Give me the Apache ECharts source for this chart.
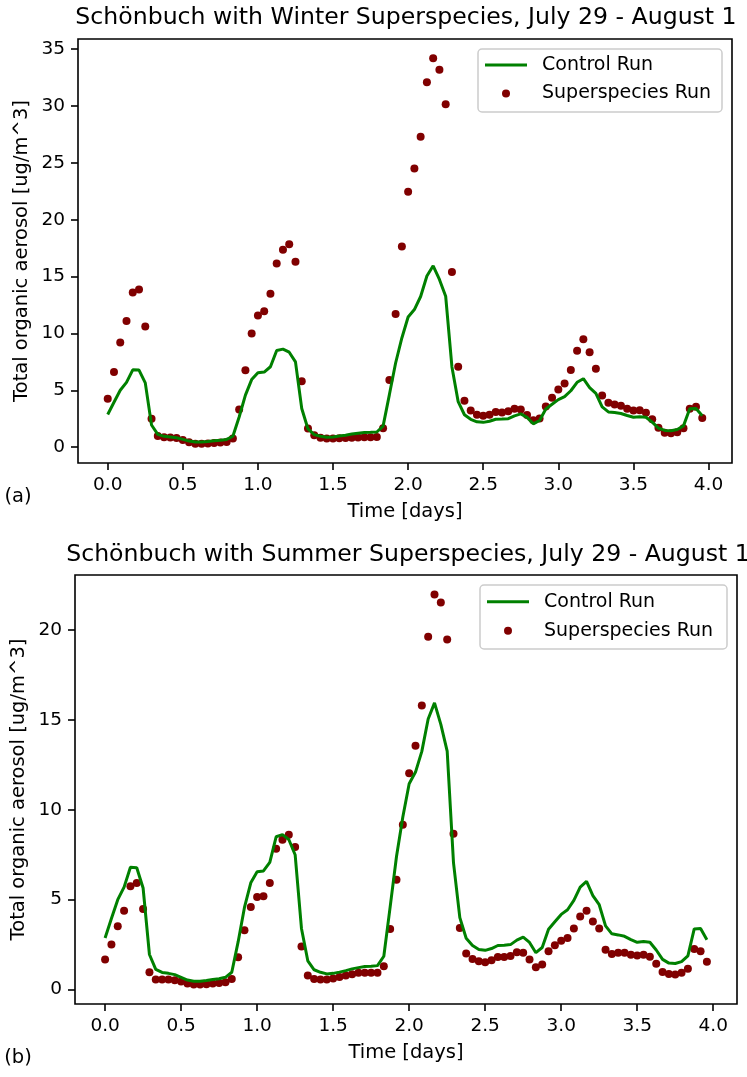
<!DOCTYPE html>
<html>
<head>
<meta charset="utf-8">
<script src="https://cdn.jsdelivr.net/npm/echarts@6/dist/echarts.min.js"></script>
<style>
html,body{margin:0;padding:0;background:#ffffff;}
#chart{width:747px;height:1077px;}
</style>
</head>
<body>
<div id="chart"></div>
<script>
// ---------------- DATA ----------------
const timeDays = [
  0, 0.0417, 0.0833, 0.125, 0.1667, 0.2083, 0.25, 0.2917, 0.3333, 0.375, 0.4167, 0.4583,
  0.5, 0.5417, 0.5833, 0.625, 0.6667, 0.7083, 0.75, 0.7917, 0.8333, 0.875, 0.9167, 0.9583,
  1, 1.0417, 1.0833, 1.125, 1.1667, 1.2083, 1.25, 1.2917, 1.3333, 1.375, 1.4167, 1.4583,
  1.5, 1.5417, 1.5833, 1.625, 1.6667, 1.7083, 1.75, 1.7917, 1.8333, 1.875, 1.9167, 1.9583,
  2, 2.0417, 2.0833, 2.125, 2.1667, 2.2083, 2.25, 2.2917, 2.3333, 2.375, 2.4167, 2.4583,
  2.5, 2.5417, 2.5833, 2.625, 2.6667, 2.7083, 2.75, 2.7917, 2.8333, 2.875, 2.9167, 2.9583,
  3, 3.0417, 3.0833, 3.125, 3.1667, 3.2083, 3.25, 3.2917, 3.3333, 3.375, 3.4167, 3.4583,
  3.5, 3.5417, 3.5833, 3.625, 3.6667, 3.7083, 3.75, 3.7917, 3.8333, 3.875, 3.9167, 3.9583
];

const controlRun = [
  2.87, 3.95, 5.0, 5.7, 6.8, 6.78, 5.65, 1.95, 1.12, 0.95, 0.9, 0.83, 0.68, 0.53, 0.46, 0.46, 0.5, 0.56, 0.6, 0.68, 0.96, 2.65, 4.57, 5.94,
  6.55, 6.6, 7.07, 8.5, 8.62, 8.35, 7.5, 3.4, 1.6, 1.1, 0.96, 0.87, 0.9, 0.97, 1.05, 1.15, 1.22, 1.28, 1.3, 1.33, 1.85, 4.6, 7.4, 9.6,
  11.45, 12.1, 13.25, 15.05, 15.95, 14.75, 13.27, 7.05, 4.0, 2.85, 2.45, 2.23, 2.18, 2.28, 2.45, 2.47, 2.5, 2.75, 2.92, 2.62, 2.05, 2.34,
  3.35, 3.77, 4.18, 4.44, 4.96, 5.7, 6.02, 5.23, 4.72, 3.54, 3.1, 3.04, 2.96, 2.78, 2.63, 2.67, 2.63, 2.2, 1.68, 1.47, 1.45, 1.55, 1.87, 3.37, 3.4, 2.77
];

const winterSuperspecies = [
  4.25, 6.6, 9.2, 11.1, 13.6, 13.86, 10.6, 2.5, 0.97, 0.88, 0.85, 0.8, 0.62, 0.44, 0.3, 0.3, 0.33, 0.36, 0.4, 0.45, 0.76, 3.3, 6.77, 10.0,
  11.57, 11.95, 13.5, 16.14, 17.35, 17.84, 16.3, 5.8, 1.65, 1.05, 0.82, 0.75, 0.75, 0.78, 0.8, 0.82, 0.85, 0.88, 0.88, 0.9, 1.67, 5.9, 11.7, 17.65,
  22.45, 24.5, 27.3, 32.1, 34.2, 33.2, 30.15, 15.4, 7.08, 4.08, 3.22, 2.84, 2.77, 2.85, 3.08, 3.05, 3.15, 3.37, 3.31, 2.82, 2.37, 2.52, 3.57, 4.34,
  5.07, 5.6, 6.78, 8.48, 9.48, 8.35, 6.9, 4.55, 3.9, 3.76, 3.63, 3.37, 3.22, 3.25, 3.02, 2.46, 1.7, 1.26, 1.23, 1.32, 1.67, 3.37, 3.55, 2.56
];

const summerSuperspecies = [
  1.67, 2.5, 3.52, 4.39, 5.74, 5.93, 4.48, 0.96, 0.56, 0.56, 0.56, 0.52, 0.44, 0.33, 0.28, 0.28, 0.3, 0.33, 0.37, 0.41, 0.59, 1.8, 3.3, 4.59,
  5.15, 5.19, 5.93, 7.83, 8.33, 8.61, 7.93, 2.39, 0.78, 0.59, 0.56, 0.56, 0.61, 0.7, 0.78, 0.85, 0.93, 0.93, 0.93, 0.93, 1.3, 3.37, 6.11, 9.17,
  12.04, 13.56, 15.8, 19.63, 21.98, 21.54, 19.48, 8.67, 3.43, 2.0, 1.7, 1.57, 1.52, 1.63, 1.81, 1.81, 1.87, 2.07, 2.04, 1.67, 1.24, 1.39, 2.13, 2.46,
  2.72, 2.87, 3.39, 4.06, 4.39, 3.78, 3.39, 2.22, 1.98, 2.04, 2.04, 1.94, 1.89, 1.94, 1.83, 1.44, 0.98, 0.87, 0.83, 0.93, 1.15, 2.26, 2.13, 1.54
];

const xTickValues = [0, 0.5, 1, 1.5, 2, 2.5, 3, 3.5, 4];
const yTickValuesWinter = [0, 5, 10, 15, 20, 25, 30, 35];
const yTickValuesSummer = [0, 5, 10, 15, 20];

const panelTitles = [
  'Schönbuch with Winter Superspecies, July 29 - August 1',
  'Schönbuch with Summer Superspecies, July 29 - August 1'
];
const seriesNames = ['Control Run', 'Superspecies Run'];
const xAxisTitle = 'Time [days]';
const yAxisTitle = 'Total organic aerosol [ug/m^3]';
const panelTags = ['(a)', '(b)'];

// ---------------- LAYOUT / STYLE ----------------
const FONT = '"DejaVu Sans", "Noto Sans", sans-serif';
const GREEN = '#008000';
const DOT = '#800000';
const panels = [
  { grid: { left: 78, top: 39, width: 654, height: 424 }, yMin: -1.395, yMax: 35.895, yTicks: yTickValuesWinter, sup: winterSuperspecies,
    titleX: 406, titleY: 18, xLabY: 512, yLabX: 22, tagY: 497,
    legendBox: { x: 478, y: 49, w: 244, h: 63 }, legendLeft: 485, legendTop: 53, legendGap: 4.5 },
  { grid: { left: 75, top: 575, width: 662, height: 429 }, yMin: -0.805, yMax: 23.065, yTicks: yTickValuesSummer, sup: summerSuperspecies,
    titleX: 408, titleY: 555, xLabY: 1053, yLabX: 19, tagY: 1058,
    legendBox: { x: 480, y: 585, w: 247, h: 64 }, legendLeft: 487, legendTop: 589.7, legendGap: 5 }
];
const X_MIN = -0.1979, X_MAX = 4.1563;

const chart = echarts.init(document.getElementById('chart'), null, { renderer: 'canvas' });

const grids = [], xAxes = [], yAxes = [], series = [], legends = [], graphics = [];

panels.forEach((p, k) => {
  grids.push(Object.assign({ show: true, borderColor: '#000', borderWidth: 1.6, backgroundColor: 'transparent' }, p.grid));
  xAxes.push({
    type: 'value', gridIndex: k, min: X_MIN, max: X_MAX, position: 'bottom',
    splitLine: { show: false },
    axisLine: { show: false, onZero: false },
    axisTick: { show: true, length: 7, customValues: xTickValues, lineStyle: { color: '#000', width: 1.6 } },
    axisLabel: { customValues: xTickValues, formatter: v => v.toFixed(1), margin: 13, color: '#000', fontSize: 18.5, fontFamily: FONT }
  });
  yAxes.push({
    type: 'value', gridIndex: k, min: p.yMin, max: p.yMax, position: 'left',
    splitLine: { show: false },
    axisLine: { show: false, onZero: false },
    axisTick: { show: true, length: 7, customValues: p.yTicks, lineStyle: { color: '#000', width: 1.6 } },
    axisLabel: { customValues: p.yTicks, formatter: v => String(Math.round(v)), margin: 13, color: '#000', fontSize: 18.5, fontFamily: FONT }
  });
  series.push({
    type: 'scatter', name: seriesNames[1], xAxisIndex: k, yAxisIndex: k,
    data: timeDays.map((t, i) => [t, p.sup[i]]),
    symbol: 'circle', symbolSize: 8, itemStyle: { color: DOT, opacity: 1 }, z: 2, silent: true
  });
  series.push({
    type: 'line', name: seriesNames[0], xAxisIndex: k, yAxisIndex: k,
    data: timeDays.map((t, i) => [t, controlRun[i]]),
    symbol: 'none', showSymbol: false, lineStyle: { color: GREEN, width: 3 }, itemStyle: { color: GREEN }, z: 3, silent: true
  });
  legends.push({
    orient: 'vertical', left: p.legendLeft, top: p.legendTop, padding: 0,
    itemWidth: 42, itemHeight: 8, itemGap: p.legendGap, selectedMode: false, z: 6,
    data: [
      { name: seriesNames[0], icon: 'path://M0 0L42 0L42 3L0 3Z', itemStyle: { color: GREEN, opacity: 1 } },
      { name: seriesNames[1], icon: 'circle', itemStyle: { color: DOT, opacity: 1 } }
    ],
    textStyle: { fontFamily: FONT, fontSize: 19, lineHeight: 24, color: '#000', padding: [0, 0, 0, 10] }
  });
  const lb = p.legendBox;
  graphics.push({ type: 'rect', z: 5, shape: { x: lb.x, y: lb.y, width: lb.w, height: lb.h, r: 4 },
    style: { fill: 'rgba(255,255,255,0.8)', stroke: '#cccccc', lineWidth: 1.5 } });
  graphics.push({ type: 'text', x: p.titleX, y: p.titleY, z: 10,
    style: { text: panelTitles[k], fontFamily: FONT, fontSize: 23.6, fill: '#000', align: 'center', verticalAlign: 'middle' } });
  graphics.push({ type: 'text', x: p.grid.left + p.grid.width / 2, y: p.xLabY, z: 10,
    style: { text: xAxisTitle, fontFamily: FONT, fontSize: 19.5, fill: '#000', align: 'center', verticalAlign: 'middle' } });
  graphics.push({ type: 'text', x: p.yLabX, y: p.grid.top + p.grid.height / 2, rotation: Math.PI / 2, z: 10,
    style: { text: yAxisTitle, fontFamily: FONT, fontSize: 19.5, fill: '#000', align: 'center', verticalAlign: 'middle' } });
  graphics.push({ type: 'text', x: 18, y: p.tagY, z: 10,
    style: { text: panelTags[k], fontFamily: FONT, fontSize: 19.5, fill: '#000', align: 'center', verticalAlign: 'middle' } });
});

chart.setOption({
  animation: false,
  backgroundColor: '#ffffff',
  grid: grids,
  xAxis: xAxes,
  yAxis: yAxes,
  legend: legends,
  series: series,
  graphic: graphics
});
</script>
</body>
</html>
